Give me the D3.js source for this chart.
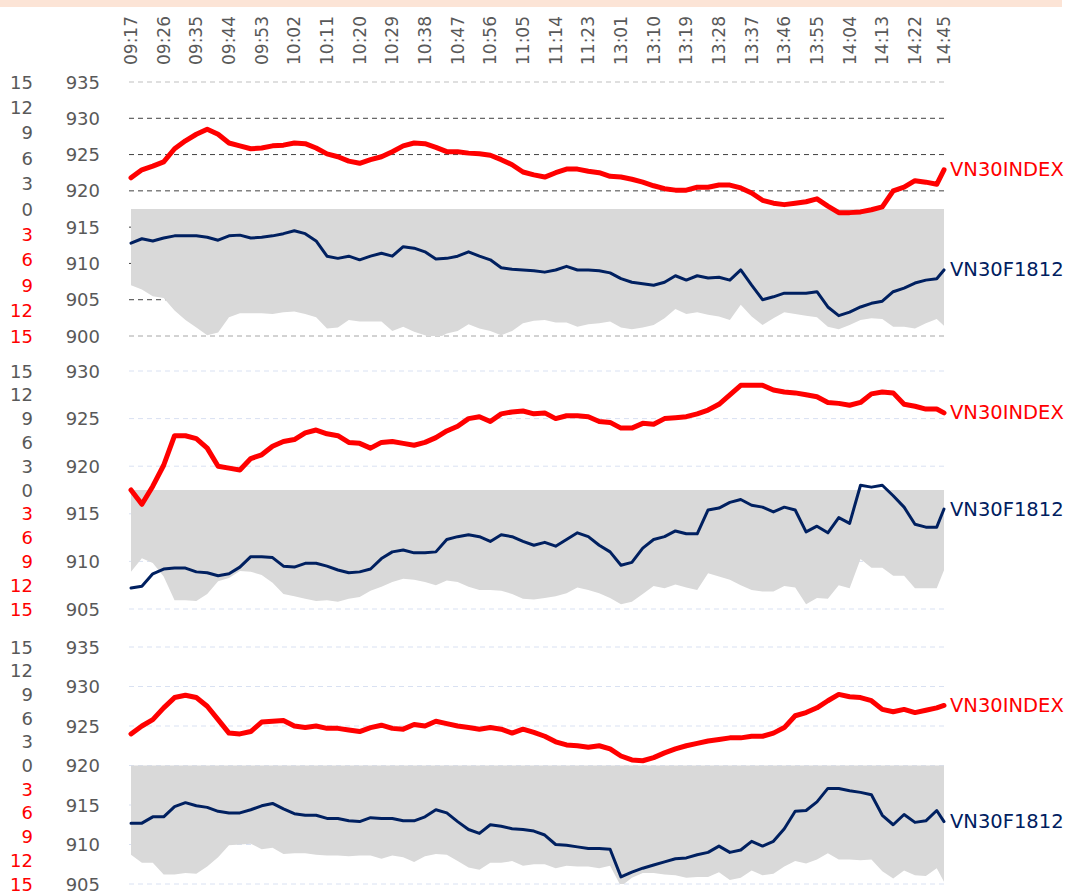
<!DOCTYPE html>
<html>
<head>
<meta charset="utf-8">
<script src="https://cdn.jsdelivr.net/npm/d3@7"></script>
<style>
  html, body { margin: 0; padding: 0; background: #ffffff; }
  svg { display: block; }
  text { font-family: "DejaVu Sans", Verdana, sans-serif; }
</style>
</head>
<body>
<svg id="chart" width="1068" height="893"></svg>
<script>
// ---------------- DATA ----------------
const tickLabels = ["09:17","09:26","09:35","09:44","09:53","10:02","10:11","10:20","10:29","10:38","10:47","10:56","11:05","11:14","11:23","13:01","13:10","13:19","13:28","13:37","13:46","13:55","14:04","14:13","14:22","14:45"];

// trading sessions (minute categories)
const sessions = [["09:17","11:30"],["13:00","14:29"],["14:45","14:45"]];

const seriesNames = ["VN30INDEX", "VN30F1812"];

// values sampled every 3rd minute (plus the closing 14:45 point)
const p1Index = [921.8,922.9,923.4,924.0,925.8,926.9,927.8,928.5,927.8,926.6,
  926.2,925.8,925.9,926.2,926.3,926.6,926.5,925.9,925.1,924.7,
  924.1,923.8,924.3,924.7,925.4,926.2,926.6,926.5,926.0,925.4,
  925.4,925.2,925.1,924.9,924.3,923.6,922.6,922.2,921.9,922.5,
  923.0,923.0,922.7,922.5,922.0,921.9,921.6,921.2,920.7,920.3,
  920.1,920.1,920.5,920.5,920.8,920.8,920.4,919.7,918.7,918.3,
  918.1,918.3,918.5,918.9,917.9,917.0,917.0,917.1,917.4,917.8,
  920.0,920.5,921.4,921.2,920.9,922.9];
const p1Fut = [912.8,913.4,913.1,913.5,913.8,913.8,913.8,913.6,913.2,913.8,
  913.9,913.5,913.6,913.8,914.1,914.5,914.1,913.1,911.0,910.7,
  911.0,910.5,911.0,911.4,911.0,912.3,912.1,911.6,910.6,910.7,
  911.0,911.6,911.0,910.5,909.4,909.2,909.1,909.0,908.8,909.1,
  909.6,909.1,909.1,909.0,908.7,907.9,907.4,907.2,907.0,907.4,
  908.3,907.7,908.3,908.0,908.1,907.7,909.1,907.0,905.0,905.4,
  905.9,905.9,905.9,906.1,904.0,902.8,903.3,904.0,904.5,904.8,
  906.1,906.6,907.3,907.7,907.9,909.1];

const p2Index = [917.5,916.0,917.9,920.1,923.2,923.2,922.9,921.9,920.0,919.8,
  919.6,920.8,921.2,922.1,922.6,922.8,923.5,923.8,923.4,923.2,
  922.5,922.4,921.9,922.5,922.6,922.4,922.2,922.5,923.0,923.7,
  924.2,925.0,925.2,924.7,925.5,925.7,925.8,925.5,925.6,925.0,
  925.3,925.3,925.2,924.7,924.6,924.0,924.0,924.5,924.4,925.0,
  925.1,925.2,925.5,925.9,926.5,927.5,928.5,928.5,928.5,928.0,
  927.8,927.7,927.5,927.3,926.7,926.6,926.4,926.7,927.6,927.8,
  927.7,926.5,926.3,926.0,926.0,925.6];
const p2Fut = [907.2,907.4,908.7,909.2,909.3,909.3,908.9,908.8,908.5,908.7,
  909.4,910.5,910.5,910.4,909.5,909.4,909.8,909.8,909.5,909.1,
  908.8,908.9,909.2,910.3,911.0,911.2,910.9,910.9,911.0,912.3,
  912.6,912.8,912.6,912.1,912.8,912.6,912.1,911.7,912.0,911.6,
  912.3,913.0,912.6,911.7,911.0,909.6,909.9,911.4,912.3,912.6,
  913.2,912.9,912.9,915.4,915.6,916.2,916.5,915.9,915.7,915.2,
  915.7,915.4,913.1,913.7,913.0,914.6,914.0,918.0,917.8,918.0,
  916.9,915.7,913.9,913.6,913.6,915.5];

const p3Index = [924.0,925.0,925.8,927.3,928.6,928.9,928.6,927.5,925.8,924.1,
  924.0,924.3,925.5,925.6,925.7,925.0,924.8,925.0,924.7,924.7,
  924.5,924.3,924.8,925.1,924.7,924.6,925.2,925.0,925.6,925.3,
  925.0,924.8,924.6,924.8,924.6,924.1,924.6,924.2,923.7,923.0,
  922.6,922.5,922.3,922.5,922.1,921.2,920.7,920.6,921.0,921.6,
  922.1,922.5,922.8,923.1,923.3,923.5,923.5,923.7,923.7,924.1,
  924.8,926.3,926.7,927.3,928.2,929.0,928.7,928.6,928.2,927.1,
  926.8,927.1,926.7,927.0,927.3,927.6];
const p3Fut = [912.7,912.7,913.5,913.5,914.8,915.3,914.9,914.7,914.2,914.0,
  914.0,914.4,914.9,915.2,914.5,913.9,913.7,913.7,913.3,913.3,
  913.0,912.9,913.4,913.3,913.3,913.0,913.0,913.5,914.4,914.0,
  912.9,911.9,911.4,912.5,912.3,912.0,911.9,911.7,911.2,910.0,
  909.9,909.7,909.5,909.5,909.4,905.9,906.5,907.0,907.4,907.8,
  908.2,908.3,908.7,909.0,909.8,909.0,909.3,910.4,909.8,910.4,
  912.0,914.2,914.3,915.4,917.1,917.1,916.8,916.6,916.3,913.7,
  912.5,913.8,912.8,913.0,914.3,912.9];

const p1PriceTicks = [900,905,910,915,920,925,930,935];
const p2PriceTicks = [905,910,915,920,925,930];
const p3PriceTicks = [905,910,915,920,925,930,935];
const basisTicks = [15,12,9,6,3,0,-3,-6,-9,-12,-15];

// ---------------- BUILD ----------------
function minuteRange(a, b) {
  const toM = s => +s.slice(0,2)*60 + +s.slice(3,5);
  const out = [];
  for (let m = toM(a); m <= toM(b); m++) {
    out.push(String(Math.floor(m/60)).padStart(2,"0") + ":" + String(m%60).padStart(2,"0"));
  }
  return out;
}
const categories = sessions.flatMap(s => minuteRange(s[0], s[1]));
const sampleTimes = categories.filter((d,i) => i % 3 === 0 || i === categories.length - 1);

const panels = [
  { index: p1Index, fut: p1Fut, ticks: p1PriceTicks, domain: [900,935], top: 82, bottom: 336, style: "dark" },
  { index: p2Index, fut: p2Fut, ticks: p2PriceTicks, domain: [905,930], top: 371, bottom: 609, style: "light" },
  { index: p3Index, fut: p3Fut, ticks: p3PriceTicks, domain: [905,935], top: 647, bottom: 884, style: "light" }
];

const svg = d3.select("#chart");
const X0 = 131, X1 = 944;
const x = d3.scalePoint().domain(categories).range([X0, X1]);

const RED = "#ff0000", NAVY = "#002060", GREY_TXT = "#595959", AREA = "#d9d9d9";

// top band
svg.append("rect").attr("x", 0).attr("y", 0).attr("width", 1062).attr("height", 7).attr("fill", "#fce4d6");

// time axis labels (top)
svg.append("g").selectAll("text").data(tickLabels).join("text")
  .attr("transform", d => `translate(${x(d)},65) rotate(-90)`)
  .attr("text-anchor", "start")
  .attr("dominant-baseline", "central")
  .attr("font-size", 17)
  .attr("fill", GREY_TXT)
  .text(d => d);

panels.forEach((p, pi) => {
  const y = d3.scaleLinear().domain(p.domain).range([p.bottom, p.top]);
  const yb = d3.scaleLinear().domain([-15, 15]).range([p.bottom, p.top]);
  const g = svg.append("g");

  const clipId = "clip" + pi;
  g.append("clipPath").attr("id", clipId).append("rect")
    .attr("x", X0 - 2).attr("y", p.top - 10).attr("width", X1 - X0 + 4).attr("height", p.bottom - p.top + 10);

  // gridlines
  g.append("g").selectAll("line").data(p.ticks).join("line")
    .attr("x1", X0 - 2).attr("x2", X1)
    .attr("y1", d => y(d)).attr("y2", d => y(d))
    .attr("stroke", d => {
      if (p.style === "light") return "#d9e1f2";
      if (d === p.domain[0]) return "#a6a6a6";
      if (d === p.domain[1]) return "#bfbfbf";
      return "#404040";
    })
    .attr("stroke-width", 1)
    .attr("stroke-dasharray", "5,4");

  const rows = sampleTimes.map((t, i) => ({ t, idx: p.index[i], fut: p.fut[i], basis: p.fut[i] - p.index[i] }));

  // basis area
  g.append("path").datum(rows)
    .attr("clip-path", `url(#${clipId})`)
    .attr("fill", AREA)
    .attr("d", d3.area().x(d => x(d.t)).y0(yb(0)).y1(d => yb(d.basis)));

  // lines
  g.append("path").datum(rows)
    .attr("fill", "none").attr("stroke", NAVY).attr("stroke-width", 3)
    .attr("stroke-linejoin", "round").attr("stroke-linecap", "round")
    .attr("d", d3.line().x(d => x(d.t)).y(d => y(d.fut)));
  g.append("path").datum(rows)
    .attr("fill", "none").attr("stroke", RED).attr("stroke-width", 5)
    .attr("stroke-linejoin", "round").attr("stroke-linecap", "round")
    .attr("d", d3.line().x(d => x(d.t)).y(d => y(d.idx)));

  // price axis labels
  g.append("g").selectAll("text").data(p.ticks).join("text")
    .attr("x", 100).attr("y", d => y(d))
    .attr("text-anchor", "end").attr("dominant-baseline", "central")
    .attr("font-size", 18).attr("fill", GREY_TXT)
    .text(d => d);

  // basis axis labels
  g.append("g").selectAll("text").data(basisTicks).join("text")
    .attr("x", 33).attr("y", d => yb(d))
    .attr("text-anchor", "end").attr("dominant-baseline", "central")
    .attr("font-size", 18).attr("fill", d => d < 0 ? RED : GREY_TXT)
    .text(d => Math.abs(d));

  // series end labels
  const last = rows[rows.length - 1];
  g.append("text").attr("x", 950).attr("y", y(last.idx))
    .attr("dominant-baseline", "central").attr("font-size", 19.5)
    .attr("fill", RED).text(seriesNames[0]);
  g.append("text").attr("x", 950).attr("y", y(last.fut))
    .attr("dominant-baseline", "central").attr("font-size", 19.5)
    .attr("fill", NAVY).text(seriesNames[1]);
});
</script>
</body>
</html>
